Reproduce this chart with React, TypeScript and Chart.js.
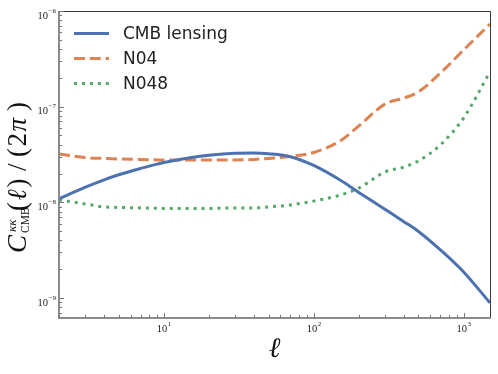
import React, { useEffect, useRef } from 'react';
import { Chart, registerables } from 'chart.js';

Chart.register(...registerables);

// ---- data ----
const ells = [2, 3, 4, 5, 7, 10, 15, 20, 30, 40, 50, 70, 100, 150, 200, 300, 400, 500, 700, 1000, 1500];
const cmbLensing = [1.09e-8, 1.44e-8, 1.72e-8, 1.94e-8, 2.26e-8, 2.61e-8, 2.93e-8, 3.11e-8, 3.26e-8, 3.28e-8, 3.22e-8, 3.0e-8, 2.43e-8, 1.71e-8, 1.27e-8, 8.43e-9, 6.28e-9, 4.96e-9, 3.18e-9, 1.87e-9, 8.9e-10];
const n04 = [3.21e-8, 2.94e-8, 2.88e-8, 2.84e-8, 2.81e-8, 2.77e-8, 2.77e-8, 2.77e-8, 2.77e-8, 2.81e-8, 2.88e-8, 3.02e-8, 3.32e-8, 4.38e-8, 6.29e-8, 1.07e-7, 1.23e-7, 1.43e-7, 2.25e-7, 3.91e-7, 7.31e-7];
const n048 = [1.06e-8, 9.62e-9, 8.95e-9, 8.85e-9, 8.74e-9, 8.64e-9, 8.64e-9, 8.64e-9, 8.74e-9, 8.74e-9, 8.95e-9, 9.4e-9, 1.03e-8, 1.19e-8, 1.41e-8, 2.08e-8, 2.34e-8, 2.71e-8, 3.98e-8, 7.62e-8, 2.31e-7];
const seriesLabels = ['CMB lensing', 'N04', 'N048'];

const xMin = 2;
const xMax = 1500;
const yMin = 6.18e-10;
const yMax = 1e-6;
const xMajorTicks = [10, 100, 1000];
const xTickExponents = ['1', '2', '3'];
const yMajorTicks = [1e-9, 1e-8, 1e-7, 1e-6];
const yTickExponents = ['\u22129', '\u22128', '\u22127', '\u22126'];

const COLORS = ['#4C72B0', '#DD8452', '#55A868'];
const DASHES: number[][] = [[], [11, 4.8], [3, 4.95]];

const SERIF = '"Liberation Serif", "DejaVu Serif", serif';
const SANS = '"DejaVu Sans", sans-serif';

function minorValues(majors: number[], min: number, max: number) {
  const out: number[] = [];
  const all = [majors[0] / 10, ...majors];
  for (const m of all) {
    for (let k = 2; k <= 9; k++) {
      const v = m * k;
      if (v >= min && v <= max) out.push(v);
    }
  }
  return out;
}

const decorPlugin = {
  id: 'decor',
  afterDraw(chart: any) {
    const ctx: CanvasRenderingContext2D = chart.ctx;
    const ca = chart.chartArea;
    const xs = chart.scales.x;
    const ys = chart.scales.y;
    ctx.save();

    // frame
    ctx.setLineDash([]);
    ctx.strokeStyle = '#3a3a3a';
    ctx.lineWidth = 1;
    ctx.beginPath();
    ctx.moveTo(ca.left, ca.top + 0.5);
    ctx.lineTo(ca.right + 0.5, ca.top + 0.5);
    ctx.lineTo(ca.right + 0.5, ca.bottom);
    ctx.stroke();
    ctx.strokeStyle = '#8c8c8c';
    ctx.lineWidth = 2;
    ctx.beginPath();
    ctx.moveTo(ca.left, ca.top);
    ctx.lineTo(ca.left, ca.bottom);
    ctx.lineTo(ca.right + 1, ca.bottom);
    ctx.stroke();

    // ticks (inward)
    ctx.strokeStyle = '#777';
    ctx.lineWidth = 1;
    const drawX = (v: number, len: number) => {
      const px = Math.round(xs.getPixelForValue(v)) + 0.5;
      ctx.beginPath();
      ctx.moveTo(px, ca.bottom);
      ctx.lineTo(px, ca.bottom - len);
      ctx.stroke();
    };
    const drawY = (v: number, len: number) => {
      const py = Math.round(ys.getPixelForValue(v)) + 0.5;
      ctx.beginPath();
      ctx.moveTo(ca.left, py);
      ctx.lineTo(ca.left + len, py);
      ctx.stroke();
    };
    xMajorTicks.forEach((v) => drawX(v, 5));
    minorValues(xMajorTicks, xMin, xMax).forEach((v) => drawX(v, 3));
    yMajorTicks.forEach((v) => drawY(v, 5));
    minorValues(yMajorTicks, yMin, yMax).forEach((v) => drawY(v, 3));

    // tick labels
    ctx.fillStyle = '#222';
    ctx.textBaseline = 'alphabetic';
    const baseFont = `10.5px ${SERIF}`;
    const expFont = `7px ${SERIF}`;
    xMajorTicks.forEach((v, i) => {
      const px = xs.getPixelForValue(v);
      ctx.font = baseFont;
      const wb = ctx.measureText('10').width;
      ctx.font = expFont;
      const we = ctx.measureText(xTickExponents[i]).width;
      const start = px - (wb + we) / 2;
      ctx.font = baseFont;
      ctx.textAlign = 'left';
      ctx.fillText('10', start, ca.bottom + 14);
      ctx.font = expFont;
      ctx.fillText(xTickExponents[i], start + wb + 0.5, ca.bottom + 8);
    });
    yMajorTicks.forEach((v, i) => {
      const py = ys.getPixelForValue(v);
      ctx.font = baseFont;
      const wb = ctx.measureText('10').width;
      ctx.font = expFont;
      const we = ctx.measureText(yTickExponents[i]).width;
      const end = ca.left - 3;
      const start = end - we - wb - 0.5;
      ctx.textAlign = 'left';
      ctx.font = baseFont;
      ctx.fillText('10', start, py + 7.5);
      ctx.font = expFont;
      ctx.fillText(yTickExponents[i], start + wb + 0.5, py + 1.5);
    });

    // legend
    chart.data.datasets.forEach((ds: any, i: number) => {
      const y = ca.top + 22.5 + i * 25;
      ctx.strokeStyle = ds.borderColor;
      ctx.lineWidth = 3;
      ctx.setLineDash(ds.borderDash || []);
      ctx.lineCap = 'butt';
      ctx.beginPath();
      ctx.moveTo(ca.left + 15, y);
      ctx.lineTo(ca.left + 50, y);
      ctx.stroke();
      ctx.setLineDash([]);
      ctx.fillStyle = '#222';
      ctx.font = `17px ${SANS}`;
      ctx.textAlign = 'left';
      ctx.textBaseline = 'middle';
      ctx.fillText(ds.label, ca.left + 64, y + 1);
    });

    // x title
    ctx.fillStyle = '#111';
    ctx.textAlign = 'center';
    ctx.textBaseline = 'alphabetic';
    ctx.font = `italic 28px ${SERIF}`;
    ctx.fillText('\u2113', (ca.left + ca.right) / 2, 357);

    // y title (rotated)
    ctx.save();
    ctx.translate(26, 253);
    ctx.rotate(-Math.PI / 2);
    ctx.textAlign = 'left';
    ctx.textBaseline = 'alphabetic';
    const main = 27;
    const put = (t: string, italic: boolean, size: number, at: number, dy = 0) => {
      ctx.font = `${italic ? 'italic ' : ''}${size}px ${SERIF}`;
      ctx.fillText(t, at, dy);
    };
    put('C', true, main, 0);
    put('\u03BA\u03BA', true, 13, 21, -10);
    put('CMB', false, 11.5, 20, 3);
    put('(', false, main, 42);
    put('\u2113', true, main, 52.5);
    put(')', false, main, 65.5);
    put('/', false, main, 82);
    put('(', false, main, 96);
    put('2', false, main, 106.5);
    put('\u03C0', true, main, 121.5);
    put(')', false, main, 142);
    ctx.restore();

    ctx.restore();
  },
};

export default function App() {
  const ref = useRef<HTMLCanvasElement | null>(null);
  useEffect(() => {
    document.body.style.margin = '0';
    document.body.style.overflow = 'hidden';
    const canvas = ref.current!;
    const seriesValues = [cmbLensing, n04, n048];
    const chart = new Chart(canvas, {
      type: 'line',
      data: {
        datasets: seriesValues.map((vals, i) => ({
          label: seriesLabels[i],
          data: ells.map((x, j) => ({ x, y: vals[j] })),
          borderColor: COLORS[i],
          backgroundColor: COLORS[i],
          borderWidth: 3,
          borderDash: DASHES[i],
          borderCapStyle: 'butt',
          pointRadius: 0,
          fill: false,
          cubicInterpolationMode: 'monotone',
        })),
      },
      options: {
        animation: false,
        responsive: false,
        events: [],
        layout: { padding: { top: 11, right: 8, left: 0, bottom: 0 } },
        plugins: { legend: { display: false }, tooltip: { enabled: false } },
        scales: {
          x: {
            type: 'logarithmic',
            min: xMin,
            max: xMax,
            grid: { display: false },
            border: { display: false },
            ticks: { display: false },
            afterFit: (s: any) => { s.height = 56; },
          },
          y: {
            type: 'logarithmic',
            min: yMin,
            max: yMax,
            grid: { display: false },
            border: { display: false },
            ticks: { display: false },
            afterFit: (s: any) => { s.width = 59; },
          },
        },
      } as any,
      plugins: [decorPlugin],
    } as any);
    return () => chart.destroy();
  }, []);
  return <canvas ref={ref} width={498} height={374} style={{ display: 'block', width: 498, height: 374 }} />;
}
